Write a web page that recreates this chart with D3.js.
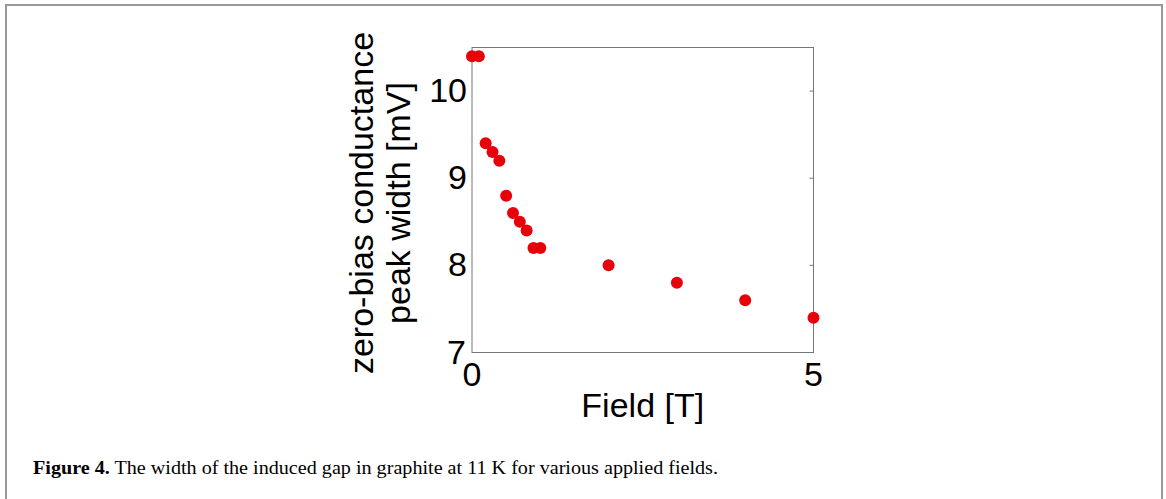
<!DOCTYPE html>
<html>
<head>
<meta charset="utf-8">
<script src="https://cdn.jsdelivr.net/npm/d3@7"></script>
<style>
  body { margin: 0; background: #fff; }
</style>
</head>
<body>
<div id="chart"></div>
<script>
// data
var field = [0, 0.1, 0.2, 0.3, 0.4, 0.5, 0.6, 0.7, 0.8, 0.9, 1.0, 2.0, 3.0, 4.0, 5.0];
var peakWidth = [10.4, 10.4, 9.4, 9.3, 9.2, 8.8, 8.6, 8.5, 8.4, 8.2, 8.2, 8.0, 7.8, 7.6, 7.4];
var xTicks = [0, 5];
var yTicks = [7, 8, 9, 10];

var W = 1166, H = 499;
var margin = {top: 47.5, left: 472, right: 1166 - 813.5, bottom: 499 - 352.5};
var width = W - margin.left - margin.right,
    height = H - margin.top - margin.bottom;

var svg = d3.select("#chart").append("svg")
  .attr("width", W)
  .attr("height", H);

// outer figure frame
svg.append("rect")
  .attr("x", 6).attr("y", 5)
  .attr("width", 1156).attr("height", 520)
  .attr("fill", "none")
  .attr("stroke", "#999")
  .attr("stroke-width", 2);

var g = svg.append("g")
  .attr("transform", "translate(" + margin.left + "," + margin.top + ")");

var x = d3.scaleLinear().domain([0, 5]).range([0, width]);
var y = d3.scaleLinear().domain([7, 10.5]).range([height, 0]);

// box
g.append("rect")
  .attr("width", width).attr("height", height)
  .attr("fill", "none")
  .attr("stroke", "#777")
  .attr("stroke-width", 1);

// right-side inward ticks
g.selectAll(".rtick")
  .data(yTicks)
  .enter().append("line")
    .attr("x1", width).attr("x2", width - 4)
    .attr("y1", d => y(d)).attr("y2", d => y(d))
    .attr("stroke", "#777");

var font = "'Liberation Sans', Arial, sans-serif";
var fs = "34px";

// y tick labels
g.selectAll(".ylab")
  .data(yTicks)
  .enter().append("text")
    .attr("x", d => d == 7 ? -6 : -5)
    .attr("y", d => d == 7 ? y(d) + 0.5 : y(d))
    .attr("dy", "0.32em")
    .attr("text-anchor", "end")
    .attr("font-family", font)
    .attr("font-size", fs)
    .text(d => d);

// x tick labels
g.selectAll(".xlab")
  .data(xTicks)
  .enter().append("text")
    .attr("x", d => x(d))
    .attr("y", height + 33)
    .attr("text-anchor", "middle")
    .attr("font-family", font)
    .attr("font-size", fs)
    .text(d => d);

// axis titles
g.append("text")
  .attr("x", width / 2)
  .attr("y", height + 64.5)
  .attr("text-anchor", "middle")
  .attr("font-family", font)
  .attr("font-size", fs)
  .text("Field [T]");

var yt = g.append("text")
  .attr("transform", "translate(-99," + (height / 2 + 3) + ") rotate(-90)")
  .attr("text-anchor", "middle")
  .attr("font-family", font)
  .attr("font-size", fs);
yt.append("tspan").attr("x", 0).attr("y", 0).text("zero-bias conductance");
yt.append("tspan").attr("x", 0).attr("y", 37).text("peak width [mV]");

// points
g.selectAll("circle")
  .data(field)
  .enter().append("circle")
    .attr("cx", d => x(d))
    .attr("cy", (d, i) => y(peakWidth[i]))
    .attr("r", 6)
    .attr("fill", "#e8000b");

// caption
var cap = svg.append("text")
  .attr("x", 33)
  .attr("y", 474)
  .attr("font-family", "'Liberation Serif', 'DejaVu Serif', serif")
  .attr("font-size", "19.5px")
  .attr("textLength", 685)
  .attr("lengthAdjust", "spacingAndGlyphs");
cap.append("tspan").attr("font-weight", "bold").text("Figure 4.");
cap.append("tspan").text(" The width of the induced gap in graphite at 11 K for  various applied fields.");
</script>
</body>
</html>
